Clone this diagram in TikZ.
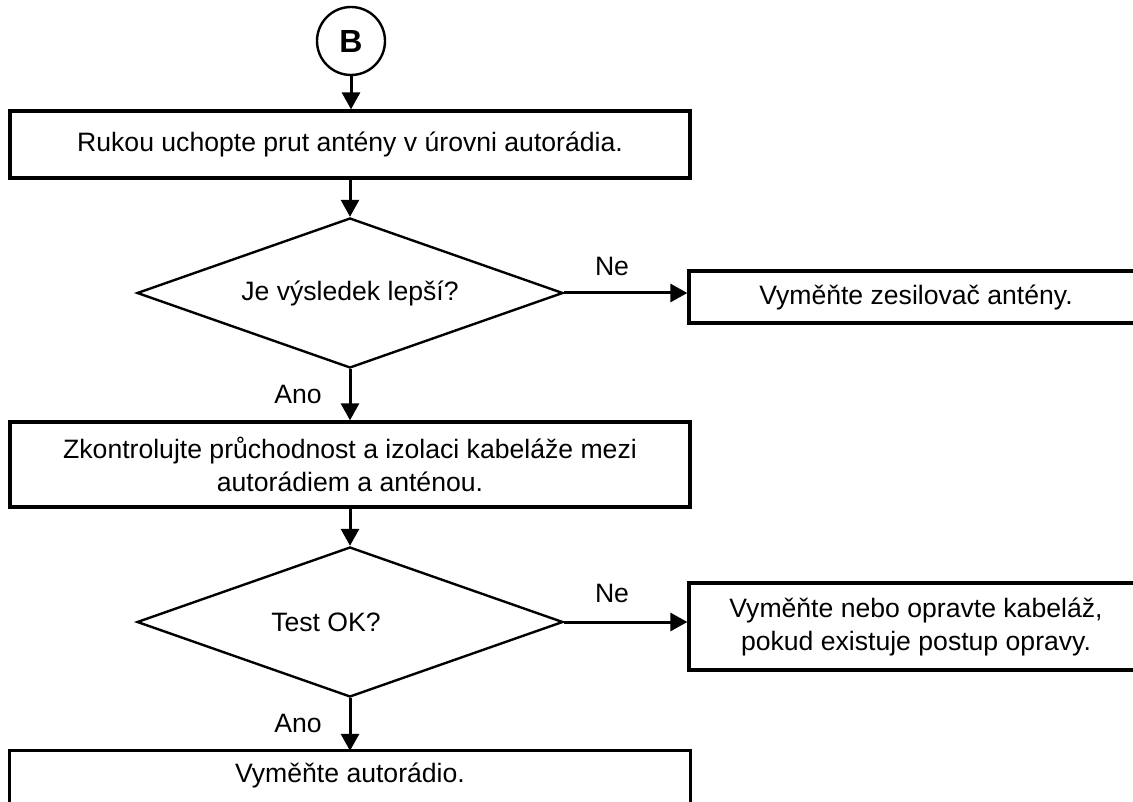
\documentclass[tikz,border=0pt]{standalone}
\usepackage{fontspec}
\setmainfont{Liberation Sans}
\usetikzlibrary{shapes.geometric,arrows.meta}
\begin{document}
\begin{tikzpicture}[x=1pt,y=-1pt,
  box/.style={draw,line width=3.3pt,inner sep=0pt,align=center,font=\fontsize{26.6}{33}\selectfont},
  dec/.style={draw,shape=diamond,shape aspect=2.84,line width=2.4pt,inner sep=0pt,minimum width=426pt,minimum height=150pt,font=\fontsize{26.6}{33}\selectfont},
  lbl/.style={font=\fontsize{26.6}{30}\selectfont,inner sep=0pt},
  flow/.style={line width=3pt,-{Triangle[length=17pt,width=18pt]}}]
\useasboundingbox (0,0) rectangle (1133,802);
\clip (0,0) rectangle (1133,802);
\node[draw,circle,line width=2.4pt,minimum size=68pt,inner sep=0pt,font=\fontsize{32}{32}\selectfont\bfseries] (c) at (351,41) {B};
\node[box,minimum width=680pt,minimum height=67pt] (b1) at (350,144.5) {Rukou uchopte prut antény v úrovni autorádia.};
\node[dec] (d1) at (350,293) {Je výsledek lepší?};
\node[box,minimum width=454pt,minimum height=52pt] (b2) at (916,297) {Vyměňte zesilovač antény.};
\node[box,minimum width=680pt,minimum height=85pt] (b3) at (350,464.5) {Zkontrolujte průchodnost a izolaci kabeláže mezi\\autorádiem a anténou.};
\node[dec] (d2) at (350,622) {};
\node[lbl] (t2) at (326,622) {Test OK?};
\node[box,minimum width=454pt,minimum height=87pt] (b4) at (916,626.5) {Vyměňte nebo opravte kabeláž,\\pokud existuje postup opravy.};
\node[inner sep=0pt,minimum width=680pt,minimum height=48pt,font=\fontsize{26.6}{33}\selectfont] (b5) at (350,775) {Vyměňte autorádio.};
\draw[line width=3.3pt] ([yshift=-10pt]b5.south west) -- (b5.north west) -- (b5.north east) -- ([yshift=-10pt]b5.south east);
\node[lbl] (ne1) at (612,266) {Ne};
\node[lbl] (ano1) at (298,394) {Ano};
\node[lbl] (ne2) at (612,593) {Ne};
\node[lbl] (ano2) at (298,723) {Ano};
\draw[flow] (c.south) -- (c.south |- b1.north);
\draw[flow] (b1.south) -- (d1.north);
\draw[flow] (d1.east) -- (d1.east -| b2.west);
\draw[flow] (d1.south) -- (b3.north);
\draw[flow] (b3.south) -- (d2.north);
\draw[flow] (d2.east) -- (d2.east -| b4.west);
\draw[flow] (d2.south) -- (b5.north);
\end{tikzpicture}
\end{document}
